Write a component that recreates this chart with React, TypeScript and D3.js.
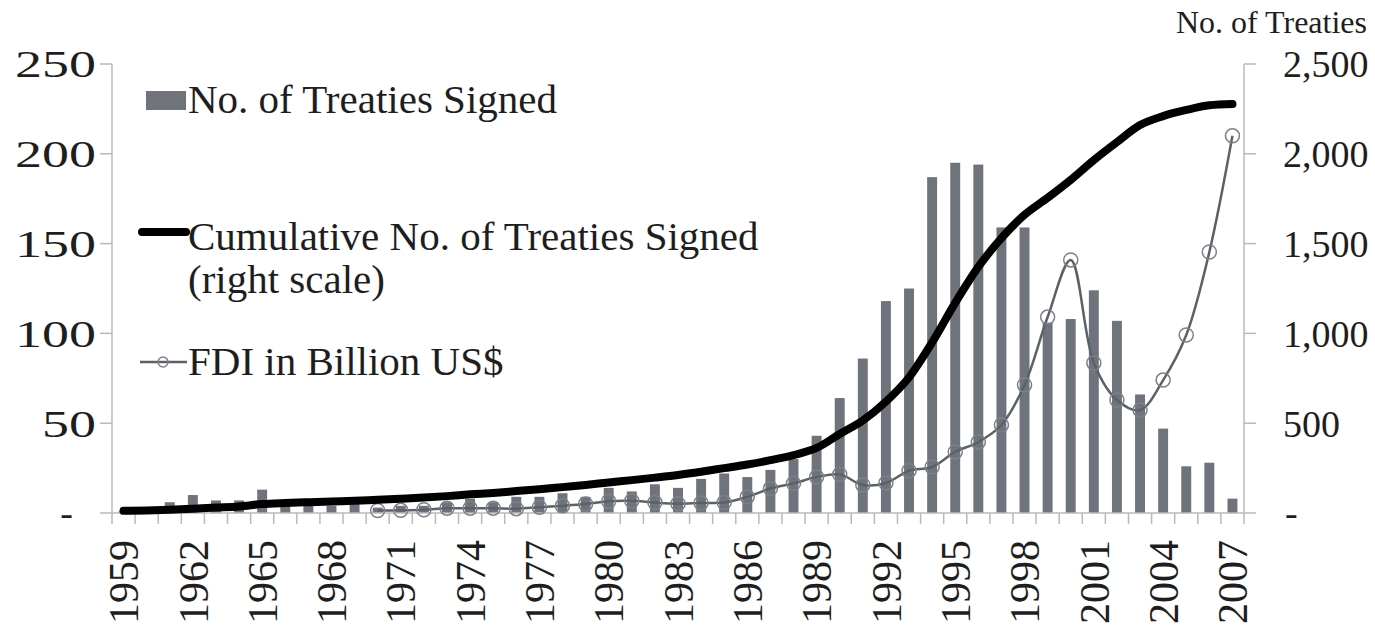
import React from "react";
import * as d3 from "d3";

const width = 1375;
const height = 633;
const margin = { top: 64, right: 132, bottom: 120, left: 112 };

const years = [
  1959, 1960, 1961, 1962, 1963, 1964, 1965, 1966, 1967, 1968,
  1969, 1970, 1971, 1972, 1973, 1974, 1975, 1976, 1977, 1978,
  1979, 1980, 1981, 1982, 1983, 1984, 1985, 1986, 1987, 1988,
  1989, 1990, 1991, 1992, 1993, 1994, 1995, 1996, 1997, 1998,
  1999, 2000, 2001, 2002, 2003, 2004, 2005, 2006, 2007,
];

// treaties signed per year (left scale)
const treatiesSigned = [
  1, 1, 6, 10, 7, 7, 13, 5, 5, 4,
  5, 3, 4, 4, 6, 8, 6, 9, 9, 11,
  9, 14, 12, 16, 14, 19, 22, 20, 24, 30,
  43, 64, 86, 118, 125, 187, 195, 194, 159, 159,
  106, 108, 124, 107, 66, 47, 26, 28, 8,
];

// cumulative treaties (right scale)
const cumulative = [
  12, 14, 18, 24, 30, 36, 50, 56, 60, 64,
  68, 74, 80, 86, 94, 104, 112, 122, 132, 144,
  156, 170, 183, 197, 212, 230, 250, 270, 294, 322,
  362, 440, 515, 620, 755, 950, 1170, 1370, 1530, 1660,
  1755, 1855, 1965, 2065, 2160, 2210, 2244, 2270, 2277,
];

// FDI in billion US$ (right scale), series begins in 1970
const fdiYears = [
  1970, 1971, 1972, 1973, 1974, 1975, 1976, 1977, 1978, 1979,
  1980, 1981, 1982, 1983, 1984, 1985, 1986, 1987, 1988, 1989,
  1990, 1991, 1992, 1993, 1994, 1995, 1996, 1997, 1998, 1999,
  2000, 2001, 2002, 2003, 2004, 2005, 2006, 2007,
];
const fdi = [
  14, 15, 18, 26, 26, 26, 24, 32, 40, 50,
  66, 68, 58, 52, 56, 58, 90, 136, 165, 200,
  215, 156, 167, 235, 256, 340, 395, 490, 713, 1091,
  1409, 835, 629, 573, 740, 991, 1453, 2100,
];

const leftTicks = [0, 50, 100, 150, 200, 250];
const rightTicks = [0, 500, 1000, 1500, 2000, 2500];
const yearLabels = [1959, 1962, 1965, 1968, 1971, 1974, 1977, 1980, 1983, 1986, 1989, 1992, 1995, 1998, 2001, 2004, 2007];

const font = "'Liberation Serif', 'Times New Roman', serif";
const barColor = "#6f747c";
const axisColor = "#b8b8c0";
const fdiColor = "#5c6168";
const textColor = "#1e1e1e";

export default function App() {
  const x0 = margin.left;
  const x1 = width - margin.right + 1;
  const yBase = height - margin.bottom;

  const x = d3
    .scaleBand<number>()
    .domain(years)
    .range([x0, x1])
    .paddingInner(0.57)
    .paddingOuter(0.285);
  const cx = (yr: number) => (x(yr) as number) + x.bandwidth() / 2;

  const yLeft = d3.scaleLinear().domain([0, 250]).range([yBase, margin.top]);
  const yRight = d3.scaleLinear().domain([0, 2500]).range([yBase, margin.top]);

  const fmt = d3.format(",");

  const cumLine = d3
    .line<number>()
    .x((d, i) => cx(years[i]))
    .y(d => yRight(d))
    .curve(d3.curveMonotoneX);

  const fdiLine = d3
    .line<number>()
    .x((d, i) => cx(fdiYears[i]))
    .y(d => yRight(d))
    .curve(d3.curveCatmullRom.alpha(0.5));

  const step = x.step();
  const boundaries = years.map((yr, i) => x0 + step * (i + 1));

  return (
    <svg
      width={width}
      height={height}
      style={{ position: "absolute", left: 0, top: 0, background: "#fff" }}
      fontFamily={font}
    >
      {/* bars */}
      {years.map((yr, i) => (
        <rect
          key={yr}
          x={x(yr)}
          y={yLeft(treatiesSigned[i])}
          width={x.bandwidth()}
          height={yBase - yLeft(treatiesSigned[i])}
          fill={barColor}
        />
      ))}

      {/* axes */}
      <line x1={x0} x2={x0} y1={margin.top} y2={yBase} stroke={axisColor} strokeWidth={1.5} />
      <line x1={x1} x2={x1} y1={margin.top} y2={yBase} stroke={axisColor} strokeWidth={1.5} />
      <line x1={x0} x2={x1} y1={yBase} y2={yBase} stroke={axisColor} strokeWidth={1.5} />
      {boundaries.map((bx, i) => (
        <line key={i} x1={bx} x2={bx} y1={yBase} y2={yBase + 11} stroke={axisColor} strokeWidth={1.5} />
      ))}
      <line x1={x0} x2={x0} y1={yBase} y2={yBase + 11} stroke={axisColor} strokeWidth={1.5} />

      {leftTicks.map(t => (
        <g key={"l" + t}>
          <line x1={x0 - 12} x2={x0} y1={yLeft(t)} y2={yLeft(t)} stroke={axisColor} strokeWidth={1.5} />
          {t === 0 ? (
            <text x={73} y={yLeft(t)} dy="0.35em" textAnchor="end" fontSize={38} fill={textColor}>
              -
            </text>
          ) : (
            <text
              transform={`translate(96,${yLeft(t)}) scale(1.42,1)`}
              dy="0.35em"
              textAnchor="end"
              fontSize={38}
              fill={textColor}
            >
              {fmt(t)}
            </text>
          )}
        </g>
      ))}

      {rightTicks.map(t => (
        <g key={"r" + t}>
          <line x1={x1} x2={x1 + 12} y1={yRight(t)} y2={yRight(t)} stroke={axisColor} strokeWidth={1.5} />
          <text
            x={t === 0 ? 1285 : 1283}
            y={yRight(t)}
            dy="0.35em"
            textAnchor="start"
            fontSize={38}
            fill={textColor}
          >
            {t === 0 ? "-" : fmt(t)}
          </text>
        </g>
      ))}

      <text x={1367} y={33} textAnchor="end" fontSize={32} fill={textColor}>
        No. of Treaties
      </text>

      {yearLabels.map(yr => (
        <text
          key={yr}
          transform={`translate(${cx(yr)},540) rotate(-90)`}
          dy="0.35em"
          textAnchor="end"
          fontSize={42}
          fill={textColor}
        >
          {yr}
        </text>
      ))}

      {/* FDI line */}
      <path d={fdiLine(fdi) || ""} fill="none" stroke={fdiColor} strokeWidth={2.5} />
      {fdi.map((v, i) => (
        <circle
          key={fdiYears[i]}
          cx={cx(fdiYears[i])}
          cy={yRight(v)}
          r={7}
          fill="none"
          stroke="#7c8188"
          strokeWidth={1.5}
        />
      ))}

      {/* cumulative line */}
      <path
        d={cumLine(cumulative) || ""}
        fill="none"
        stroke="#000"
        strokeWidth={8}
        strokeLinecap="round"
        strokeLinejoin="round"
      />

      {/* legend */}
      <g fontSize={41} fill={textColor}>
        <rect x={146} y={91} width={40} height={19} fill={barColor} />
        <text x={188} y={113}>No. of Treaties Signed</text>

        <line x1={142} x2={186} y1={232} y2={232} stroke="#000" strokeWidth={8} strokeLinecap="round" />
        <text x={188} y={250}>Cumulative No. of Treaties Signed</text>
        <text x={188} y={293}>(right scale)</text>

        <line x1={140} x2={187} y1={362} y2={362} stroke={fdiColor} strokeWidth={2.5} />
        <circle cx={163} cy={362} r={5} fill="none" stroke="#7c8188" strokeWidth={1.5} />
        <text x={188} y={375}>FDI in Billion US$</text>
      </g>
    </svg>
  );
}
